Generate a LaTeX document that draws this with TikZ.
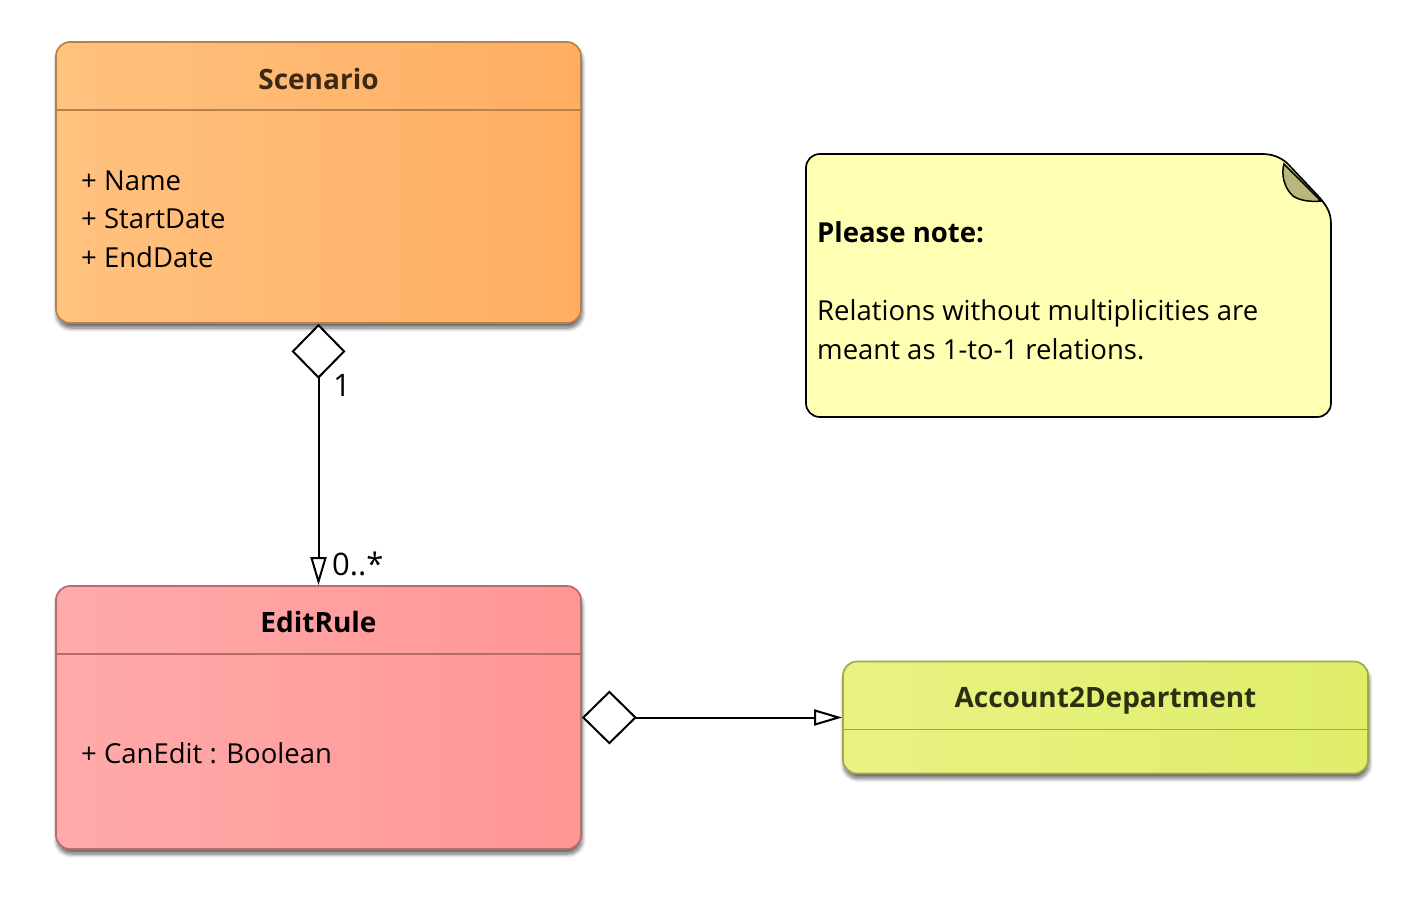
\documentclass[tikz,border=0pt]{standalone}
\usepackage{fontspec}
\setmainfont{Open Sans}
\usetikzlibrary{positioning,arrows.meta,calc,shadows.blur}

\definecolor{scenleft}{HTML}{FFC27F}
\definecolor{scenright}{HTML}{FFAD62}
\definecolor{scenline}{HTML}{B8814A}
\definecolor{scentext}{HTML}{3A2914}
\definecolor{ruleleft}{HTML}{FFAAAA}
\definecolor{ruleright}{HTML}{FF9696}
\definecolor{ruleline}{HTML}{B86B6B}
\definecolor{deptleft}{HTML}{EAF283}
\definecolor{deptright}{HTML}{DFED6A}
\definecolor{deptline}{HTML}{9FAB48}
\definecolor{depttext}{HTML}{2B3110}
\definecolor{notefill}{HTML}{FFFFB3}
\definecolor{notefold}{HTML}{B8B87C}

\tikzset{
  classbox/.style={draw, line width=1.7pt, rounded corners=14pt, minimum width=525pt,
    inner sep=0pt, blur shadow={shadow xshift=1pt, shadow yshift=-5pt,
    shadow blur steps=8, shadow blur radius=4pt, shadow opacity=60}},
  classname/.style={anchor=base, inner sep=0pt, font=\bfseries\fontsize{28}{32}\selectfont},
  attr/.style={anchor=base west, inner sep=0pt, font=\fontsize{27.5}{32}\selectfont},
  multlabel/.style={anchor=base west, inner sep=0pt, font=\fontsize{31}{34}\selectfont},
  assoc/.style={line width=2pt,
    {Diamond[fill=white, length=55pt, width=54pt]}-{Triangle[open, length=28pt, width=16pt]}},
}

\begin{document}
\begin{tikzpicture}[x=1pt,y=1pt,yscale=-1,xscale=1]
        \useasboundingbox (0,0) rectangle (1428,908);
        %Class: Scenario
        \node [classbox, draw=scenline, left color=scenleft, right color=scenright,
            minimum height=281pt] (scenario) at (318.5,182.5) {};
        \draw [scenline, line width=1.5pt] ($(scenario.north west)+(0,69)$) -- ($(scenario.north east)+(0,69)$);
        % Text Node
        \node [classname, text=scentext] (scenname) at (318.5,89) {Scenario};
        \node [attr] (scenattra) at (81,190) {+ Name};
        \node [attr] (scenattrb) at (81,228.5) {+ StartDate};
        \node [attr] (scenattrc) at (81,267) {+ EndDate};
        %Class: EditRule
        \node [classbox, draw=ruleline, left color=ruleleft, right color=ruleright,
            minimum height=263pt] (editrule) at (318.5,717.5) {};
        \draw [ruleline, line width=1.5pt] ($(editrule.north west)+(0,69)$) -- ($(editrule.north east)+(0,69)$);
        % Text Node
        \node [classname] (rulename) at (318.5,632) {EditRule};
        \node [attr] (ruleattr) at (81,763) {+ CanEdit : Boolean};
        %Class: Account2Department
        \node [classbox, draw=deptline, left color=deptleft, right color=deptright,
            minimum height=112pt] (account) at (1105.5,717.5) {};
        \draw [deptline, line width=1.5pt] ($(account.north west)+(0,69)$) -- ($(account.north east)+(0,69)$);
        % Text Node
        \node [classname, text=depttext] (accountname) at (1105.5,707) {Account2Department};
        %Shape: Note
        \draw [line width=1.7pt, fill=notefill] (820,154) -- (1262,154)
            .. controls (1272,154) and (1280,157) .. (1287,163) -- (1319,197)
            .. controls (1326,205) and (1331,212) .. (1331,224) -- (1331,403)
            .. controls (1331,411) and (1325,417) .. (1317,417) -- (820,417)
            .. controls (812,417) and (806,411) .. (806,403) -- (806,168)
            .. controls (806,160) and (812,154) .. (820,154) -- cycle ;
        %Shape: Note fold
        \draw [line width=1.5pt, fill=notefold] (1284,164)
            .. controls (1281,174) and (1284,188) .. (1293,196)
            .. controls (1300,201) and (1312,202) .. (1321,201) -- cycle ;
        % Text Node
        \node [attr, font=\bfseries\fontsize{27.5}{32}\selectfont] (notehead) at (817,242) {Please note:};
        \node [attr] (notelinea) at (817,320) {Relations without multiplicities are};
        \node [attr] (notelineb) at (817,359) {meant as 1-to-1 relations.};
        %Associations
        \draw [assoc] (scenario.south) -- (editrule.north);
        \draw [assoc] (editrule.east) -- (account.west);
        % Text Node
        \node [multlabel] (multone) at (333,396) {1};
        \node [multlabel] (multmany) at (332,575) {0..*};
\end{tikzpicture}
\end{document}
